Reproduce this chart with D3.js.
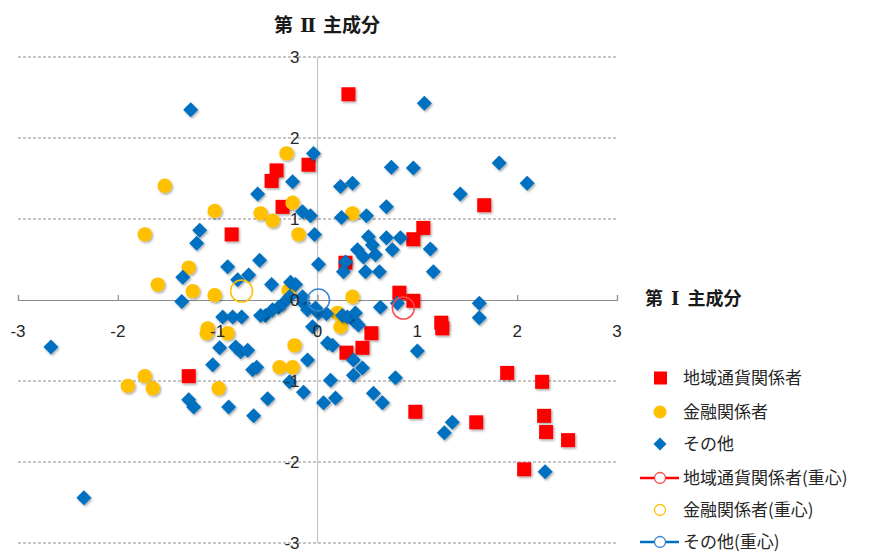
<!DOCTYPE html>
<html>
<head>
<meta charset="utf-8">
<script src="https://cdn.jsdelivr.net/npm/d3@7"></script>
<style>
  body { margin: 0; background: #fff; }
  svg { display: block; font-family: "Liberation Sans", Arial, sans-serif; }
  .jp { font-family: "Noto Sans CJK JP", sans-serif; }
</style>
</head>
<body>
<svg id="chart" width="871" height="553"></svg>
<script>
// 主成分得点 (第I, 第II)
var localCurrency = [
  [0.31, 2.54], [-0.09, 1.67], [-0.41, 1.60], [-0.46, 1.47], [-0.35, 1.15],
  [-0.86, 0.81], [1.67, 1.17], [1.06, 0.89], [0.96, 0.75], [0.28, 0.46],
  [0.82, 0.09], [0.96, -0.01], [1.24, -0.28], [1.25, -0.35], [0.54, -0.41],
  [0.45, -0.59], [0.29, -0.65], [1.90, -0.90], [2.25, -1.01], [0.98, -1.38],
  [1.59, -1.51], [2.27, -1.43], [2.29, -1.63], [2.51, -1.73], [2.07, -2.09],
  [-1.29, -0.94]
];
var finance = [
  [-0.31, 1.81], [-1.53, 1.41], [-1.03, 1.10], [-0.57, 1.07], [-0.45, 0.98],
  [-0.25, 1.20], [-1.73, 0.81], [-0.19, 0.81], [-1.29, 0.40], [0.35, 1.07],
  [-1.60, 0.19], [-1.25, 0.11], [-1.03, 0.06], [-1.10, -0.35], [-1.11, -0.41],
  [-0.90, -0.41], [-0.23, -0.56], [-0.38, -0.83], [-0.25, -0.83], [-1.73, -0.94],
  [-1.90, -1.06], [-1.65, -1.09], [-0.99, -1.09], [-0.29, 0.12], [0.35, 0.04],
  [0.20, -0.16], [0.23, -0.33]
];
var others = [
  [-1.27, 2.35], [1.07, 2.43], [-0.04, 1.81], [-0.25, 1.46], [-0.60, 1.31],
  [0.74, 1.64], [0.96, 1.63], [1.82, 1.69], [2.10, 1.44], [1.43, 1.31],
  [0.23, 1.40], [0.35, 1.44], [0.69, 1.15], [-0.15, 1.09], [-0.07, 1.04],
  [0.24, 1.02], [0.49, 1.04], [-1.18, 0.86], [-1.21, 0.70], [-0.03, 0.81],
  [0.51, 0.78], [0.69, 0.77], [0.83, 0.77], [0.40, 0.62], [0.55, 0.68],
  [0.75, 0.62], [0.46, 0.53], [0.58, 0.56], [1.13, 0.63], [0.48, 0.35],
  [0.62, 0.35], [1.16, 0.35], [-0.58, 0.49], [-0.90, 0.41], [0.01, 0.44],
  [-0.69, 0.31], [-1.35, 0.28], [-0.80, 0.25], [-0.46, 0.19], [-0.27, 0.22],
  [-0.22, 0.19], [0.28, 0.47], [0.26, 0.35], [-0.28, 0.04], [-0.35, -0.05],
  [-0.39, -0.09], [-0.45, -0.12], [-0.14, -0.04], [-0.10, -0.12], [0.01, -0.16],
  [0.09, -0.17], [-0.52, -0.19], [0.25, -0.19], [0.36, -0.25], [-1.36, -0.02],
  [-0.95, -0.21], [-0.85, -0.21], [-0.76, -0.21], [-0.57, -0.19], [-0.15, 0.04],
  [-0.02, -0.10], [-0.05, -0.33], [0.30, -0.21], [0.38, -0.16], [0.41, -0.31],
  [0.63, -0.09], [0.80, -0.04], [1.62, -0.04], [1.62, -0.22], [-2.67, -0.58],
  [-0.98, -0.59], [-0.82, -0.58], [-0.77, -0.64], [-0.70, -0.62], [-1.05, -0.80],
  [-0.65, -0.86], [-0.61, -0.83], [-0.10, -0.74], [-0.28, -1.01], [-0.14, -1.14],
  [-1.29, -1.23], [-1.24, -1.32], [-0.89, -1.32], [-0.64, -1.43], [-0.50, -1.22],
  [-2.34, -2.44], [0.10, -0.53], [0.15, -0.56], [0.36, -0.74], [0.45, -0.84],
  [0.36, -0.93], [0.78, -0.96], [1.00, -0.63], [0.13, -0.99], [0.06, -1.27],
  [0.18, -1.21], [0.56, -1.15], [0.65, -1.27], [1.35, -1.51], [1.27, -1.64],
  [2.28, -2.12]
];
// 重心
var centroidLocal = [0.86, -0.10];
var centroidFinance = [-0.76, 0.11];
var centroidOthers = [0.01, 0.00];

var ticks = [-3, -2, -1, 0, 1, 2, 3];
var legendLabels = ["地域通貨関係者", "金融関係者", "その他",
  "地域通貨関係者(重心)", "金融関係者(重心)", "その他(重心)"];

var RED = "#ff0000", YELLOW = "#ffc000", BLUE = "#0070c0";

var svg = d3.select("#chart");
var x = d3.scaleLinear().domain([-3, 3]).range([18, 617]);
var y = d3.scaleLinear().domain([-3, 3]).range([543, 57]);

var defs = svg.append("defs");
var f = defs.append("filter").attr("id", "shadow")
  .attr("x", "-50%").attr("y", "-50%").attr("width", "200%").attr("height", "200%");
f.append("feDropShadow").attr("dx", 1.2).attr("dy", 1.5)
  .attr("stdDeviation", 1).attr("flood-color", "#000").attr("flood-opacity", 0.35);

// gridlines
svg.append("g").selectAll("line")
  .data(ticks.filter(function(d) { return d !== 0; }))
  .enter().append("line")
  .attr("x1", x(-3)).attr("x2", x(3))
  .attr("y1", function(d) { return y(d); }).attr("y2", function(d) { return y(d); })
  .attr("stroke", "#8c8c8c").attr("stroke-width", 1)
  .attr("stroke-dasharray", "3,2");

// vertical axis
svg.append("line")
  .attr("x1", x(0)).attr("x2", x(0)).attr("y1", y(3)).attr("y2", y(-3))
  .attr("stroke", "#c4c4c4").attr("stroke-width", 1.2);

// horizontal axis with ticks
var xAxis = d3.axisTop(x).tickValues(ticks).tickSize(5).tickFormat("");
var gx = svg.append("g").attr("transform", "translate(0," + y(0) + ")").call(xAxis);
gx.select(".domain").attr("stroke", "#8c8c8c").attr("stroke-width", 1.2);
gx.selectAll(".tick line").attr("stroke", "#8c8c8c").attr("stroke-width", 1.2);

// series: red squares, yellow circles, blue diamonds
svg.append("g").selectAll("rect").data(localCurrency).enter().append("rect")
  .attr("x", function(d) { return x(d[0]) - 7; })
  .attr("y", function(d) { return y(d[1]) - 7; })
  .attr("width", 14).attr("height", 14)
  .attr("fill", RED).attr("filter", "url(#shadow)");

svg.append("g").selectAll("circle").data(finance).enter().append("circle")
  .attr("cx", function(d) { return x(d[0]); })
  .attr("cy", function(d) { return y(d[1]); })
  .attr("r", 7.2)
  .attr("fill", YELLOW).attr("filter", "url(#shadow)");

var diamond = "M0,-7.5L7.5,0L0,7.5L-7.5,0Z";
svg.append("g").selectAll("path").data(others).enter().append("path")
  .attr("d", diamond)
  .attr("transform", function(d) { return "translate(" + x(d[0]) + "," + y(d[1]) + ")"; })
  .attr("fill", BLUE).attr("filter", "url(#shadow)");

// centroids
var centroids = [
  { p: centroidLocal, c: "#ff4a4a" },
  { p: centroidFinance, c: YELLOW },
  { p: centroidOthers, c: "#3a86cc" }
];
svg.append("g").selectAll("circle").data(centroids).enter().append("circle")
  .attr("cx", function(d) { return x(d.p[0]); })
  .attr("cy", function(d) { return y(d.p[1]); })
  .attr("r", 11)
  .attr("fill", "none").attr("stroke", function(d) { return d.c; })
  .attr("stroke-width", 1.5);

// tick labels
svg.append("g").selectAll("text").data(ticks).enter().append("text")
  .attr("x", function(d) { return x(d); })
  .attr("y", y(0) + 37)
  .attr("text-anchor", "middle")
  .attr("font-size", 17).attr("fill", "#262626")
  .text(function(d) { return d; });

svg.append("g").selectAll("text").data(ticks).enter().append("text")
  .attr("x", x(0) - 18)
  .attr("y", function(d) { return y(d); })
  .attr("dy", "0.35em")
  .attr("text-anchor", "end")
  .attr("font-size", 17).attr("fill", "#262626")
  .text(function(d) { return d; });

// axis titles
var t2 = svg.append("text").attr("class", "jp")
  .attr("x", 327).attr("y", 25).attr("dy", "0.35em")
  .attr("text-anchor", "middle").attr("font-size", 19).attr("font-weight", "bold")
  .attr("fill", "#1a1a1a");
t2.append("tspan").text("第");
t2.append("tspan").attr("dx", 7).attr("font-family", "DejaVu Serif").text("Ⅱ");
t2.append("tspan").attr("dx", 7).text("主成分");

var t1 = svg.append("text").attr("class", "jp")
  .attr("x", 645).attr("y", 299).attr("dy", "0.35em")
  .attr("font-size", 18).attr("font-weight", "bold")
  .attr("fill", "#1a1a1a");
t1.append("tspan").text("第");
t1.append("tspan").attr("dx", 8).attr("font-family", "DejaVu Serif").text("Ⅰ");
t1.append("tspan").attr("dx", 8).text("主成分");

// legend
var legY = [378, 412, 444, 478, 510, 542];
var lg = svg.append("g");
lg.append("rect").attr("x", 654).attr("y", legY[0] - 6.5).attr("width", 13).attr("height", 13).attr("fill", RED);
lg.append("circle").attr("cx", 660).attr("cy", legY[1]).attr("r", 6.5).attr("fill", YELLOW);
lg.append("path").attr("d", "M0,-6.5L6.5,0L0,6.5L-6.5,0Z")
  .attr("transform", "translate(660," + legY[2] + ")").attr("fill", BLUE);
lg.append("line").attr("x1", 640).attr("x2", 679).attr("y1", legY[3]).attr("y2", legY[3])
  .attr("stroke", RED).attr("stroke-width", 2.5);
lg.append("circle").attr("cx", 660).attr("cy", legY[3]).attr("r", 5.5)
  .attr("fill", "#fff").attr("stroke", "#ff4a4a").attr("stroke-width", 1.3);
lg.append("circle").attr("cx", 660).attr("cy", legY[4]).attr("r", 5.5)
  .attr("fill", "none").attr("stroke", YELLOW).attr("stroke-width", 1.3);
lg.append("line").attr("x1", 640).attr("x2", 679).attr("y1", legY[5]).attr("y2", legY[5])
  .attr("stroke", BLUE).attr("stroke-width", 2.5);
lg.append("circle").attr("cx", 660).attr("cy", legY[5]).attr("r", 5.5)
  .attr("fill", "#fff").attr("stroke", "#3a86cc").attr("stroke-width", 1.3);

lg.selectAll("text.leg").data(legendLabels).enter().append("text")
  .attr("class", "leg jp")
  .attr("x", 683)
  .attr("y", function(d, i) { return legY[i]; })
  .attr("dy", "0.35em")
  .attr("font-size", 17).attr("fill", "#262626")
  .text(function(d) { return d; });
</script>
</body>
</html>
